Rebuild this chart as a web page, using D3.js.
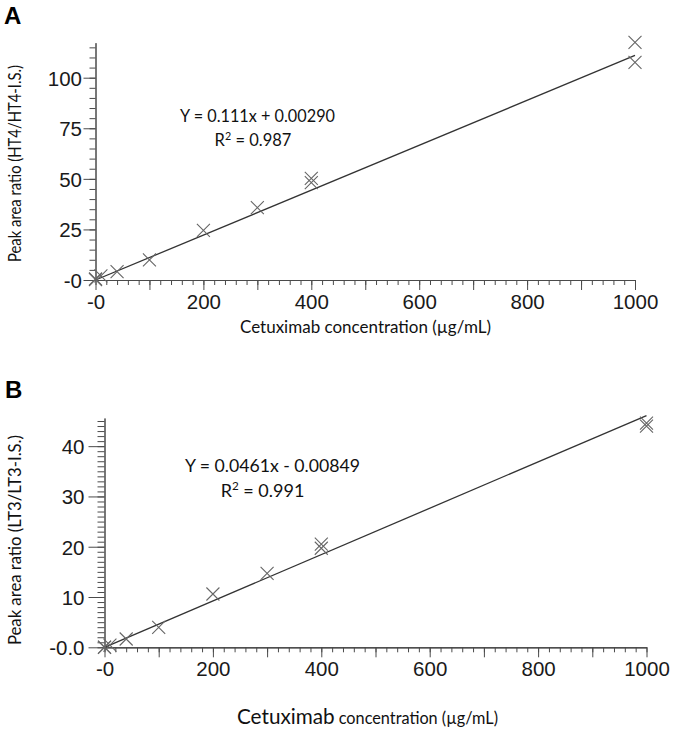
<!DOCTYPE html>
<html><head><meta charset="utf-8">
<script src="https://cdn.jsdelivr.net/npm/d3@7"></script>
<style>body{margin:0;background:#fff} svg{display:block}</style>
</head><body><svg id="c" width="675" height="732"></svg>
<script>
// ---------- data ----------
const concA  = [0, 0, 10, 40, 100, 200, 300, 400, 400, 1000, 1000];
const ratioA = [0.2, 0.5, 2.0, 4.1, 9.9, 24.5, 35.8, 50.2, 48.1, 117.5, 107.6];
const concB  = [0, 0, 10, 40, 100, 200, 300, 400, 400, 1000, 1000];
const ratioB = [0.0, 0.05, 0.45, 1.65, 3.97, 10.6, 14.7, 20.5, 19.7, 44.6, 44.0];
const fitA = {slope: 0.111, intercept: 0.00290};
const fitB = {slope: 0.0461, intercept: -0.00849};
const xTickValues = [0, 200, 400, 600, 800, 1000];
const xTickLabels = ["-0", "200", "400", "600", "800", "1000"];
const yTickValuesA = [0, 25, 50, 75, 100];
const yTickLabelsA = ["-0", "25", "50", "75", "100"];
const yTickValuesB = [0, 10, 20, 30, 40];
const yTickLabelsB = ["-0.0", "10", "20", "30", "40"];
const eqA = "Y = 0.111x + 0.00290", r2A = "0.987";
const eqB = "Y = 0.0461x - 0.00849", r2B = "0.991";
const yTitleA = "Peak area ratio (HT4/HT4-I.S.)";
const yTitleB = "Peak area ratio (LT3/LT3-I.S.)";
const xTitleWord1 = "Cetuximab", xTitleRest = "concentration (µg/mL)";

const svg = d3.select("#c");
const TICKFONT = "'Liberation Sans', Arial, sans-serif";
const TXTFONT = "Lato, 'Open Sans', sans-serif";

function panel(cfg) {
  const g = svg.append("g");
  const x = d3.scaleLinear().domain([0, 1000]).range([cfg.x0, cfg.x1]);
  const y = d3.scaleLinear().domain([0, cfg.yMax]).range([cfg.yb, cfg.yt]);

  // x axis: minor, mid, major
  const xg = g.append("g").attr("transform", `translate(0,${cfg.yb})`);
  xg.append("g").call(d3.axisBottom(x).tickValues(d3.range(0, 1001, 20)).tickSize(5).tickSizeOuter(0).tickFormat(""));
  xg.append("g").call(d3.axisBottom(x).tickValues(d3.range(100, 1000, 200)).tickSize(10).tickSizeOuter(0).tickFormat(""));
  const xm = xg.append("g").call(d3.axisBottom(x).tickValues(xTickValues).tickSize(10).tickSizeOuter(0)
      .tickFormat((d, i) => xTickLabels[i]));
  xm.selectAll("text").attr("y", cfg.xLabY).attr("dy", null)
    .attr("font-family", TICKFONT).attr("font-size", 20.5).attr("fill", "#1a1a1a");

  // y axis
  const yg = g.append("g").attr("transform", `translate(${cfg.x0},0)`);
  yg.append("g").call(d3.axisLeft(y).tickValues(d3.range(0, cfg.yMax, cfg.minorStep)).tickSize(cfg.minorLen).tickSizeOuter(0).tickFormat(""));
  const ym = yg.append("g").call(d3.axisLeft(y).tickValues(cfg.yTicks).tickSize(cfg.majorLen).tickSizeOuter(0)
      .tickFormat((d, i) => cfg.yLabels[i]));
  ym.selectAll("text").attr("x", cfg.yLabX).attr("dy", "0.36em")
    .attr("text-anchor", cfg.yLabAnchor)
    .attr("font-family", TICKFONT).attr("font-size", 20.5).attr("fill", "#1a1a1a");
  g.selectAll(".domain, .tick line").attr("stroke", "#4a4a4a").attr("stroke-width", 1);

  // regression line
  const line = d3.line().x(d => x(d)).y(d => y(cfg.fit.slope * d + cfg.fit.intercept));
  g.append("path").datum([0, 1000]).attr("d", line)
    .attr("fill", "none").attr("stroke", "#333").attr("stroke-width", 1.3);

  // crosses
  const s = 6.5;
  g.append("g").selectAll("path").data(cfg.conc.map((c, i) => [c, cfg.ratio[i]])).join("path")
    .attr("transform", d => `translate(${x(d[0])},${y(d[1])})`)
    .attr("d", `M${-s},${-s}L${s},${s}M${-s},${s}L${s},${-s}`)
    .attr("stroke", "#666").attr("stroke-width", 1.1).attr("fill", "none");

  // equation
  g.append("text").attr("x", cfg.eq1x).attr("y", cfg.eq1y).attr("text-anchor", "middle")
    .attr("font-family", TXTFONT).attr("font-size", cfg.eqSize).attr("fill", "#111")
    .attr("textLength", cfg.eq1w).attr("lengthAdjust", "spacingAndGlyphs").text(cfg.eq);
  const r = g.append("text").attr("x", cfg.eq2x).attr("y", cfg.eq2y).attr("text-anchor", "middle")
    .attr("font-family", TXTFONT).attr("font-size", cfg.eqSize).attr("fill", "#111");
  r.append("tspan").text("R");
  r.append("tspan").attr("font-size", cfg.eqSize * 0.65).attr("dy", -cfg.eqSize * 0.38).text("2");
  r.append("tspan").attr("dy", cfg.eqSize * 0.38).text(" = " + cfg.r2);

  // y title
  g.append("text").attr("transform", `translate(${cfg.ytX},${cfg.ytY}) rotate(-90)`)
    .attr("text-anchor", "middle").attr("font-family", TXTFONT).attr("font-size", cfg.ytSize)
    .attr("fill", "#111").attr("textLength", cfg.ytW).attr("lengthAdjust", "spacingAndGlyphs").text(cfg.yTitle);

  // x title
  const xt = g.append("text").attr("x", cfg.xtX).attr("y", cfg.xtY).attr("text-anchor", "start")
    .attr("font-family", TXTFONT).attr("fill", "#111")
    .attr("textLength", cfg.xtW).attr("lengthAdjust", "spacingAndGlyphs");
  xt.append("tspan").attr("font-size", cfg.xt1Size).text(xTitleWord1);
  xt.append("tspan").attr("font-size", cfg.xt2Size).text(" " + xTitleRest);

  // panel letter
  g.append("text").attr("x", cfg.pX).attr("y", cfg.pY).attr("font-family", TICKFONT)
    .attr("font-weight", "bold").attr("font-size", 24).attr("fill", "#000").text(cfg.letter);
}

panel({
  letter: "A", pX: 4, pY: 24,
  conc: concA, ratio: ratioA, fit: fitA,
  x0: 95.5, x1: 635, yb: 280, yt: 42.7, yMax: 117.3,
  xLabY: 29, yTicks: yTickValuesA, yLabels: yTickLabelsA, yLabX: -13.5, yLabAnchor: "end",
  minorStep: 5, minorLen: 6, majorLen: 12,
  eq: eqA, r2: r2A, eqSize: 16.5, eq1x: 257.5, eq1y: 121.5, eq1w: 155, eq2x: 253, eq2y: 146,
  yTitle: yTitleA, ytX: 21, ytY: 163.5, ytSize: 16.5, ytW: 197,
  xtX: 240, xtY: 333, xtW: 251, xt1Size: 17, xt2Size: 17
});

panel({
  letter: "B", pX: 5, pY: 398,
  conc: concB, ratio: ratioB, fit: fitB,
  x0: 104.5, x1: 646.5, yb: 647.3, yt: 418, yMax: 45.6,
  xLabY: 29, yTicks: yTickValuesB, yLabels: yTickLabelsB, yLabX: -20, yLabAnchor: "end",
  minorStep: 1, minorLen: 7, majorLen: 16,
  eq: eqB, r2: r2B, eqSize: 18, eq1x: 272.5, eq1y: 471.5, eq1w: 175, eq2x: 262.5, eq2y: 497,
  yTitle: yTitleB, ytX: 21, ytY: 540, ytSize: 17.5, ytW: 210,
  xtX: 237, xtY: 724, xtW: 261, xt1Size: 21, xt2Size: 16.5
});
</script>
</body></html>
